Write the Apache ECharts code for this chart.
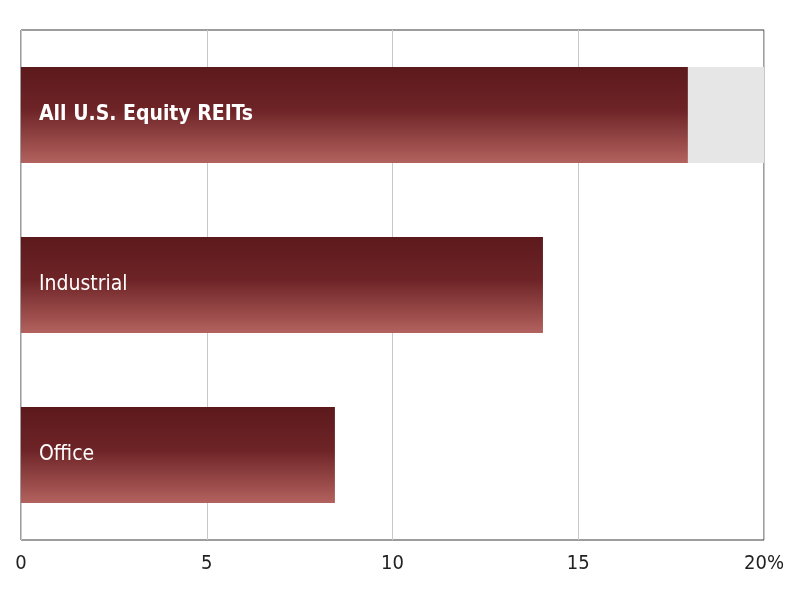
<!DOCTYPE html>
<html>
<head>
<meta charset="utf-8">
<script src="https://cdn.jsdelivr.net/npm/echarts@6/dist/echarts.min.js"></script>
<style>html,body{margin:0;padding:0;background:#fff}#chart{width:800px;height:600px}</style>
</head>
<body>
<div id="chart"></div>
<script>
// 数据
const categories = ['All U.S. Equity REITs', 'Industrial', 'Office'];
const values = [17.95, 14.05, 8.45];
const backValues = [20, null, null];
const tickLabels = {0: '0', 5: '5', 10: '10', 15: '15', 20: '20%'};

let myChart = echarts.init(document.getElementById('chart'));
const barColor = new echarts.graphic.LinearGradient(0, 0, 0, 1, [
  {offset: 0, color: '#5c191c'},
  {offset: 0.45, color: '#6e2427'},
  {offset: 1, color: '#b3625e'}
]);
let option = {
  animation: false,
  grid: {
    left: 21, right: 36, top: 30, bottom: 60,
    show: true, borderColor: '#3a3a3a', borderWidth: 1
  },
  xAxis: {
    type: 'value', min: 0, max: 20, interval: 5,
    axisLine: {show: false},
    axisTick: {show: false},
    splitLine: {lineStyle: {color: '#c8c8c8', width: 1}},
    axisLabel: {
      color: '#222', fontSize: 20, margin: 14,
      fontFamily: '"Liberation Sans Narrow", "DejaVu Sans Condensed", sans-serif',
      formatter: v => tickLabels[v]
    }
  },
  yAxis: {
    type: 'category', data: categories, inverse: true,
    axisLine: {show: false}, axisTick: {show: false}, axisLabel: {show: false}
  },
  series: [
    {
      type: 'bar', data: backValues, barWidth: 96, barGap: '-100%', z: 1,
      itemStyle: {color: '#e6e6e7'}, silent: true
    },
    {
      type: 'bar', barWidth: 96, z: 2,
      itemStyle: {color: barColor},
      label: {
        show: true, position: 'insideLeft', distance: 18,
        color: '#fff', fontSize: 21,
        fontFamily: '"Liberation Sans Narrow", "DejaVu Sans Condensed", sans-serif',
        formatter: '{b}'
      },
      data: values.map((v, i) => ({
        value: v,
        label: {fontWeight: i === 0 ? 'bold' : 'normal'}
      }))
    }
  ]
};
myChart.setOption(option);
window.addEventListener('resize', function () { myChart.resize(); });
</script>
</body>
</html>
